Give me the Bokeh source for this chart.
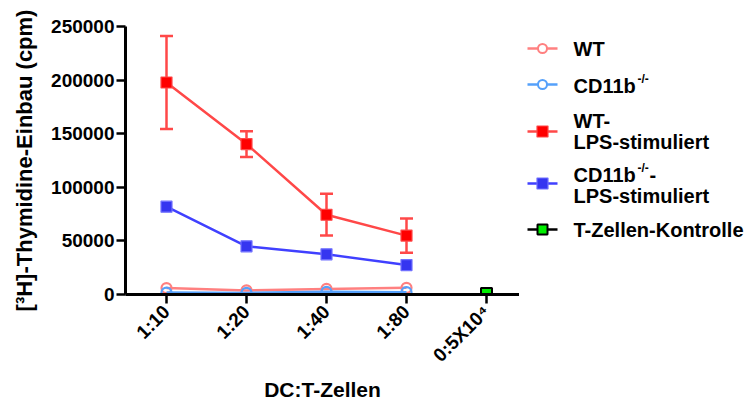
import math
from bokeh.plotting import figure
from bokeh.models import FixedTicker, Range1d, Whisker, TeeHead, ColumnDataSource
from bokeh.layouts import row
from bokeh.embed import file_html
from bokeh.resources import INLINE
from bokeh.core.properties import value

# ---------------- data ----------------
categories = ["1:10", "1:20", "1:40", "1:80", "0:5X10\u2074"]
x_pos = [1, 2, 3, 4]
ctrl_pos = [5]
wt = [6000, 3800, 5200, 6200]
cd11b = [1800, 1500, 2500, 2200]
wt_lps = [198000, 140500, 74500, 55000]
wt_lps_err = [43500, 12000, 19500, 16000]
cd11b_lps = [82000, 45000, 37500, 27500]
ctrl = [1000]
y_ticks = [0, 50000, 100000, 150000, 200000, 250000]
y_tick_labels = ["0", "50000", "100000", "150000", "200000", "250000"]

FONT = value("Liberation Sans")
C_WT = "#FF8080"
C_CD = "#55A0FA"
C_WTL = "#FF4848"
C_WTL_FILL = "#FF0000"
C_CDL = "#4040FF"
C_CDL_FILL = "#3535F0"
C_CTRL = "#00EE00"

FRAME_TOP, FRAME_BOTTOM = 26, 294

# ---------------- main chart ----------------
p = figure(width=519, height=405, output_backend="svg", toolbar_location=None,
           x_range=Range1d(0.4875, 5.4125), y_range=Range1d(0, 250300),
           min_border_left=125, min_border_right=0, min_border_top=FRAME_TOP,
           min_border_bottom=0)
p.outline_line_color = None
p.xgrid.visible = False
p.ygrid.visible = False

for ax in (p.xaxis[0], p.yaxis[0]):
    ax.axis_line_width = 3
    ax.axis_line_color = "black"
    ax.major_tick_line_width = 2.5
    ax.major_tick_in = 0
    ax.minor_tick_line_color = None
    ax.major_label_text_font = "Liberation Sans"
    ax.major_label_text_font_style = "bold"
    ax.major_label_text_font_size = "19px"
    ax.major_label_text_color = "black"
    ax.axis_label_text_font = "Liberation Sans"
    ax.axis_label_text_font_style = "bold"
    ax.axis_label_text_color = "black"

p.xaxis.ticker = FixedTicker(ticks=[1, 2, 3, 4, 5])
p.xaxis.major_label_overrides = {i + 1: lab for i, lab in enumerate(categories)}
p.xaxis.major_label_orientation = math.pi / 4
p.xaxis.major_tick_out = 9
p.xaxis.major_label_standoff = 5
p.xaxis.axis_label = "DC:T-Zellen"
p.xaxis.axis_label_text_font_size = "21px"
p.xaxis.axis_label_standoff = 2

p.yaxis.ticker = FixedTicker(ticks=y_ticks)
p.yaxis.major_label_overrides = dict(zip(y_ticks, y_tick_labels))
p.yaxis.major_tick_out = 9
p.yaxis.major_label_standoff = 2
p.yaxis.axis_label = "[\u00b3H]-Thymidine-Einbau (cpm)"
p.yaxis.axis_label_text_font_size = "22px"
p.yaxis.axis_label_standoff = 11

# WT
p.line(x_pos, wt, line_color=C_WT, line_width=2.5)
p.scatter(x_pos, wt, marker="circle", size=10, fill_color=None, line_color=C_WT, line_width=2.2)
# CD11b-/-
p.line(x_pos, cd11b, line_color=C_CD, line_width=2.5)
p.scatter(x_pos, cd11b, marker="circle", size=10, fill_color=None, line_color=C_CD, line_width=2.2)
# WT-LPS
src = ColumnDataSource(dict(x=x_pos, y=wt_lps,
                            upper=[v + e for v, e in zip(wt_lps, wt_lps_err)],
                            lower=[v - e for v, e in zip(wt_lps, wt_lps_err)]))
p.line("x", "y", source=src, line_color=C_WTL, line_width=2.5)
p.add_layout(Whisker(base="x", upper="upper", lower="lower", source=src, dimension="height",
                     line_color=C_WTL, line_width=2.5,
                     upper_head=TeeHead(size=13, line_color=C_WTL, line_width=2.5),
                     lower_head=TeeHead(size=13, line_color=C_WTL, line_width=2.5)))
p.scatter("x", "y", source=src, marker="square", size=11, fill_color=C_WTL_FILL,
          line_color=C_WTL, line_width=1.2)
# CD11b-/- LPS
p.line(x_pos, cd11b_lps, line_color=C_CDL, line_width=2.5)
p.scatter(x_pos, cd11b_lps, marker="square", size=11, fill_color=C_CDL_FILL,
          line_color="#7070FF", line_width=1.2)
# T-Zellen-Kontrolle
p.scatter(ctrl_pos, ctrl, marker="square", size=11, fill_color=C_CTRL,
          line_color="black", line_width=2)

# ---------------- legend ----------------
# The row layout aligns this panel's frame with the chart frame, so its
# y range spans the same page pixels (FRAME_TOP..FRAME_BOTTOM).
LW, LH = 232, 405
leg = figure(width=LW, height=LH, output_backend="svg", toolbar_location=None,
             x_range=Range1d(0, LW), y_range=Range1d(FRAME_BOTTOM, FRAME_TOP),
             min_border_left=0, min_border_right=0,
             min_border_top=FRAME_TOP, min_border_bottom=LH - FRAME_BOTTOM,
             x_axis_location=None, y_axis_location=None)
leg.outline_line_color = None
leg.grid.visible = False

OX = 519                  # x offset of the legend panel in page pixels
LINE_X = [527 - OX, 557 - OX]
MARK_X = 542 - OX
TEXT_X = 573 - OX
SUP_DX = 64

def leg_text(x, y, t, size="20px", yoff=0):
    leg.text(x=[x], y=[y], text=[t], text_font=FONT, text_font_style="bold",
             text_font_size=size, text_baseline="middle", text_align="left",
             text_color="black", y_offset=yoff)

def leg_sample(y, marker, size, fill, line, lcol, lw=1.2):
    leg.line(LINE_X, [y, y], line_color=lcol, line_width=2.5)
    leg.scatter([MARK_X], [y], marker=marker, size=size, fill_color=fill,
                line_color=line, line_width=lw)

# WT
y = 48
leg_sample(y, "circle", 9, "white", C_WT, C_WT, 2)
leg_text(TEXT_X, y, "WT")
# CD11b-/-
y = 84
leg_sample(y, "circle", 9, "white", C_CD, C_CD, 2)
leg_text(TEXT_X, y + 1, "CD11b")
leg_text(TEXT_X + SUP_DX, y - 6, "-/-", size="12px")
# WT-LPS
y = 131
leg_sample(y, "square", 11, C_WTL_FILL, C_WTL, C_WTL)
leg_text(TEXT_X, 120, "WT-")
leg_text(TEXT_X, 141, "LPS-stimuliert")
# CD11b-LPS
y = 183
leg_sample(y, "square", 11, C_CDL_FILL, "#7070FF", C_CDL)
leg_text(TEXT_X, 174, "CD11b")
leg_text(TEXT_X + SUP_DX, 167, "-/-", size="12px")
leg_text(TEXT_X + SUP_DX + 12, 174, "-")
leg_text(TEXT_X, 195, "LPS-stimuliert")
# T-Zellen-Kontrolle
y = 229
leg_sample(y, "square", 10, C_CTRL, "black", "black", 2)
leg_text(TEXT_X, y, "T-Zellen-Kontrolle")

layout = row(p, leg)
open("out.html", "w").write(file_html(layout, INLINE))
